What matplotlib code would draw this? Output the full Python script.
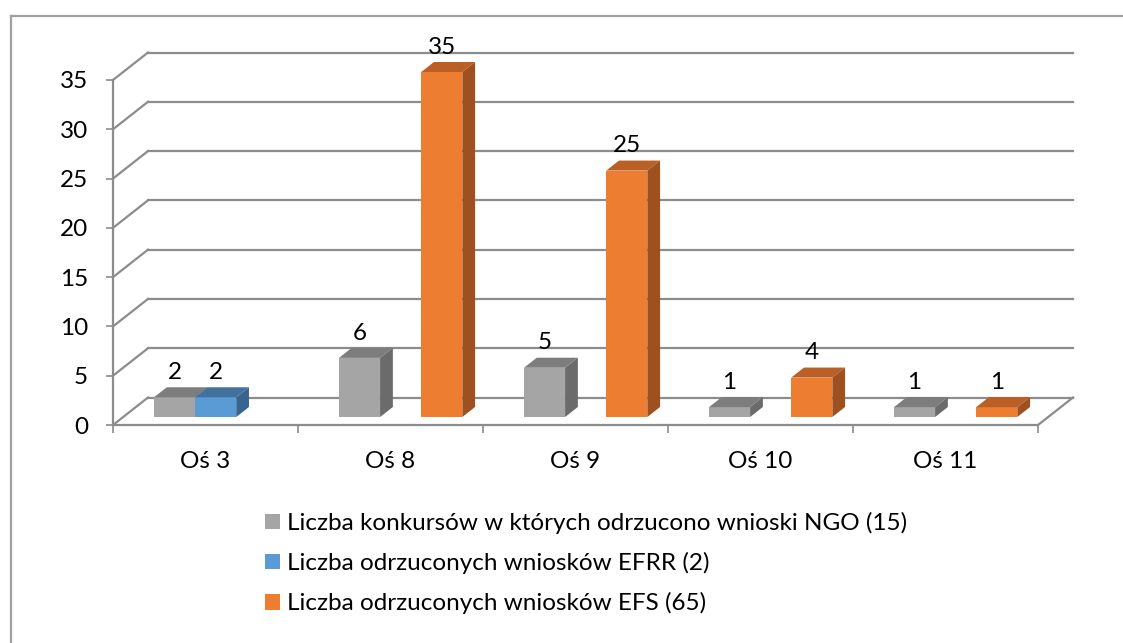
import matplotlib
matplotlib.use('Agg')
import matplotlib.pyplot as plt
from matplotlib.patches import Polygon, Patch
from matplotlib.lines import Line2D
import numpy as np

plt.rcParams['font.family'] = ['Lato', 'DejaVu Sans']

# Data
categories = ['Oś 3', 'Oś 8', 'Oś 9', 'Oś 10', 'Oś 11']
ngo = [2, 6, 5, 1, 1]
efrr = [2, None, None, None, None]
efs = [None, 35, 25, 4, 1]
series_names = ['Liczba konkursów w których odrzucono wnioski NGO (15)',
                'Liczba odrzuconych wniosków EFRR (2)',
                'Liczba odrzuconych wniosków EFS (65)']
yticks = [0, 5, 10, 15, 20, 25, 30, 35]

# colours: front, top, side
faces = [('#A5A5A5', '#7D7D7D', '#6B6B6B'),
         ('#5B9BD5', '#41719C', '#38658F'),
         ('#ED7D31', '#BA5F25', '#9E511F')]
grid_col = '#8C8C8C'
FS = 17.5

W, H = 1123, 643
fig = plt.figure(figsize=(W / 100, H / 100), dpi=100)
ax = fig.add_axes([113 / W, 1 - 425 / H, 925 / W, 345 / H])
ax.set_xlim(-0.5, len(categories) - 0.5)
ax.set_ylim(0, 35)

# 3D depth (data units): back wall offset
px_x = 925 / len(categories)
px_y = 345 / 35
DX, DY = 35 / px_x, 27.5 / px_y
f0, f1 = 0.29, 0.655  # bar front/back depth fraction

# back wall gridlines and left wall diagonals
x0, x1 = -0.5, len(categories) - 0.5
for g in yticks:
    ax.plot([x0 + DX, x1 + DX], [g + DY, g + DY], color=grid_col, lw=1.6, clip_on=False, zorder=1)
    ax.plot([x0, x0 + DX], [g, g + DY], color=grid_col, lw=1.6, clip_on=False, zorder=1)
ax.plot([x1, x1 + DX], [0, DY], color=grid_col, lw=1.6, clip_on=False, zorder=1)

# bars
bw = 1 / 4.5
series = [ngo, efrr, efs]
a0, b0 = f0 * DX, f0 * DY
a1, b1 = f1 * DX, f1 * DY
for i in range(len(categories)):
    for j, vals in enumerate(series):
        v = vals[i]
        if v is None:
            continue
        xl = i + (j - 1) * bw - bw / 2
        xr = xl + bw
        front, top, side = faces[j]
        ax.add_patch(Polygon([(xl + a0, b0), (xr + a0, b0), (xr + a0, v + b0), (xl + a0, v + b0)],
                             closed=True, fc=front, ec='none', zorder=3, clip_on=False))
        ax.add_patch(Polygon([(xl + a0, v + b0), (xr + a0, v + b0), (xr + a1, v + b1), (xl + a1, v + b1)],
                             closed=True, fc=top, ec='none', zorder=3, clip_on=False))
        ax.add_patch(Polygon([(xr + a0, b0), (xr + a1, b1), (xr + a1, v + b1), (xr + a0, v + b0)],
                             closed=True, fc=side, ec='none', zorder=3, clip_on=False))
        ax.annotate(str(v), (xl + a0 + bw / 2, v + b1), xytext=(0, 6), textcoords='offset points',
                    ha='center', va='baseline', fontsize=FS, color='black', zorder=4,
                    annotation_clip=False)

# axes styling
for s in ['top', 'right']:
    ax.spines[s].set_visible(False)
for s in ['left', 'bottom']:
    ax.spines[s].set_color(grid_col)
    ax.spines[s].set_linewidth(1.6)
ax.set_facecolor('none')
ax.set_yticks(yticks)
ax.tick_params(axis='y', length=5, width=1.2, color=grid_col, pad=13, labelsize=FS)
ax.set_xticks(np.arange(len(categories) + 1) - 0.5)
ax.set_xticklabels([])
ax.set_xticks(np.arange(len(categories)), minor=True)
ax.set_xticklabels(categories, minor=True)
ax.tick_params(axis='x', which='major', length=6, width=1.2, color=grid_col)
ax.tick_params(axis='x', which='minor', length=0, pad=19, labelsize=FS)

# legend
handles = [Patch(facecolor=f[0], edgecolor='none') for f in faces]
fig.legend(handles, series_names, loc='upper left', bbox_to_anchor=(265 / W, 1 - 512 / H),
           frameon=False, fontsize=FS, handlelength=0.62, handleheight=0.62,
           handletextpad=0.3, labelspacing=0.74, borderpad=0, borderaxespad=0)

# chart area border
fig.add_artist(Line2D([11 / W, 11 / W], [0, 1 - 16 / H], color='#A0A0A0', lw=1.6))
fig.add_artist(Line2D([11 / W, 1], [1 - 16 / H, 1 - 16 / H], color='#A0A0A0', lw=1.6))

fig.savefig('out.png', dpi=100)
